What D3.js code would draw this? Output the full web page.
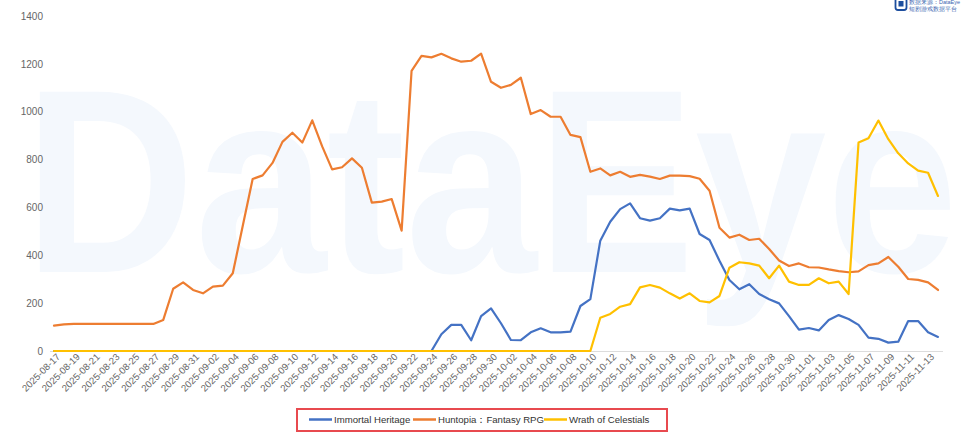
<!DOCTYPE html>
<html><head><meta charset="utf-8">
<script src="https://cdn.jsdelivr.net/npm/d3@7/dist/d3.min.js"></script>
<style>html,body{margin:0;padding:0;background:#fff;}svg{display:block;font-family:Arial,"Liberation Sans",sans-serif;}</style>
</head><body><svg id="c" width="974" height="432"></svg>
<script>
const dates = [
"2025-08-17","2025-08-18","2025-08-19","2025-08-20","2025-08-21","2025-08-22","2025-08-23","2025-08-24","2025-08-25","2025-08-26",
"2025-08-27","2025-08-28","2025-08-29","2025-08-30","2025-08-31","2025-09-01","2025-09-02","2025-09-03","2025-09-04","2025-09-05",
"2025-09-06","2025-09-07","2025-09-08","2025-09-09","2025-09-10","2025-09-11","2025-09-12","2025-09-13","2025-09-14","2025-09-15",
"2025-09-16","2025-09-17","2025-09-18","2025-09-19","2025-09-20","2025-09-21","2025-09-22","2025-09-23","2025-09-24","2025-09-25",
"2025-09-26","2025-09-27","2025-09-28","2025-09-29","2025-09-30","2025-10-01","2025-10-02","2025-10-03","2025-10-04","2025-10-05",
"2025-10-06","2025-10-07","2025-10-08","2025-10-09","2025-10-10","2025-10-11","2025-10-12","2025-10-13","2025-10-14","2025-10-15",
"2025-10-16","2025-10-17","2025-10-18","2025-10-19","2025-10-20","2025-10-21","2025-10-22","2025-10-23","2025-10-24","2025-10-25",
"2025-10-26","2025-10-27","2025-10-28","2025-10-29","2025-10-30","2025-10-31","2025-11-01","2025-11-02","2025-11-03","2025-11-04",
"2025-11-05","2025-11-06","2025-11-07","2025-11-08","2025-11-09","2025-11-10","2025-11-11","2025-11-12","2025-11-13","2025-11-14"];

const immortalHeritage = [
0,0,0,0,0,0,0,0,0,0, 0,0,0,0,0,0,0,0,0,0, 0,0,0,0,0,0,0,0,0,0, 0,0,0,0,0,0,0,0,0,70,
109,109,45,146,178,116,46,45,78,95, 78,78,81,188,217,461,540,593,617,555,
545,555,595,588,595,489,464,377,297,258, 279,238,216,199,146,89,96,86,130,150,
134,109,56,51,35,39,125,125,78,59];

const huntopia = [
106,111,113,113,113,113,113,113,113,113, 113,130,260,287,255,241,269,273,325,522,
719,734,786,874,912,871,964,855,759,768, 805,766,620,624,635,503,1171,1233,1227,1242,
1223,1209,1213,1243,1125,1100,1112,1142,990,1007, 979,979,903,894,749,763,734,749,728,736,
729,719,733,733,731,720,670,515,474,486, 464,469,426,378,355,366,350,349,341,334,
329,333,359,366,393,352,301,297,287,255];

const wrathOfCelestials = [
0,0,0,0,0,0,0,0,0,0, 0,0,0,0,0,0,0,0,0,0, 0,0,0,0,0,0,0,0,0,0, 0,0,0,0,0,0,0,0,0,0,
0,0,0,0,0,0,0,0,0,0, 0,0,0,0,0,139,155,185,196,266,
276,265,241,219,241,209,203,230,348,371, 366,357,304,357,290,276,276,304,283,290,
238,871,889,963,885,826,784,754,745,648];

const seriesNames = ["Immortal Heritage","Huntopia：Fantasy RPG","Wrath of Celestials"];
const seriesColors = ["#4472C4","#ED7D31","#FFC000"];
const seriesValues = [immortalHeritage, huntopia, wrathOfCelestials];
const yTicks = [0,200,400,600,800,1000,1200,1400];

const svg = d3.select("#c");

// watermark
svg.append("text").attr("x",24).attr("y",272)
  .attr("font-size",262).attr("font-weight","bold")
  .attr("textLength",934).attr("lengthAdjust","spacingAndGlyphs")
  .attr("fill","#f4f8fd").text("DataEye");

// top-right logo
const lg = svg.append("g").attr("transform","translate(895,0)");
lg.append("rect").attr("x",0.5).attr("y",-2).attr("width",11).attr("height",12).attr("rx",2.5).attr("fill","none").attr("stroke","#1d4e9e").attr("stroke-width",1.8);
lg.append("rect").attr("x",3.5).attr("y",1).attr("width",5).attr("height",5.5).attr("fill","#1d4e9e");
lg.append("text").attr("x",14).attr("y",4).attr("font-size",5.5).attr("fill","#3b66b0").text("数据来源：DataEye");
lg.append("text").attr("x",14).attr("y",10.5).attr("font-size",5.5).attr("fill","#3b66b0").text("短剧游戏数据平台");

const x = d3.scalePoint().domain(dates).range([54,938]);
const y = d3.scaleLinear().domain([0,1400]).range([351,16]);

// axis line
svg.append("line").attr("x1",50).attr("x2",943).attr("y1",351.5).attr("y2",351.5)
  .attr("stroke","#dcdcdc").attr("stroke-width",1);

// y labels
const yAxis = d3.axisLeft(y).tickValues(yTicks).tickFormat(d3.format("d")).tickSize(0).tickPadding(0);
const ya = svg.append("g").attr("transform","translate(43,0)").call(yAxis);
ya.select(".domain").remove();
ya.selectAll("text").attr("font-size",10).attr("fill","#666").attr("font-family","Arial,'Liberation Sans',sans-serif");

// x labels
const xLabels = dates.filter((d,i)=>i%2===0);
const xAxis = d3.axisBottom(x).tickValues(xLabels).tickSize(0).tickPadding(0);
const xa = svg.append("g").attr("transform","translate(0,357)").call(xAxis);
xa.select(".domain").remove();
xa.selectAll("text")
  .attr("font-size",9.6).attr("fill","#666").attr("font-family","Arial,'Liberation Sans',sans-serif")
  .attr("text-anchor","end").attr("dy","0.7em").attr("dx","0")
  .attr("transform","rotate(-45) translate(4,-2)");

// lines
const line = d3.line().x((d,i)=>x(dates[i])).y(d=>y(d));
seriesValues.forEach((vals,k)=>{
  svg.append("path").datum(vals).attr("d",line)
    .attr("fill","none").attr("stroke",seriesColors[k]).attr("stroke-width",2.2)
    .attr("stroke-linejoin","round").attr("stroke-linecap","round");
});

// legend
svg.append("rect").attr("x",297).attr("y",409).attr("width",370).attr("height",22)
  .attr("fill","none").attr("stroke","#e84a4f").attr("stroke-width",2);
const legX = [309,413,544];
seriesNames.forEach((n,k)=>{
  const g = svg.append("g").attr("transform",`translate(${legX[k]},419.5)`);
  g.append("line").attr("x1",0).attr("x2",23).attr("y1",0).attr("y2",0)
    .attr("stroke",seriesColors[k]).attr("stroke-width",2.5);
  g.append("text").attr("x",25).attr("y",0).attr("dy","0.35em")
    .attr("font-size",9.6).attr("fill","#333").text(n);
});
</script></body></html>
